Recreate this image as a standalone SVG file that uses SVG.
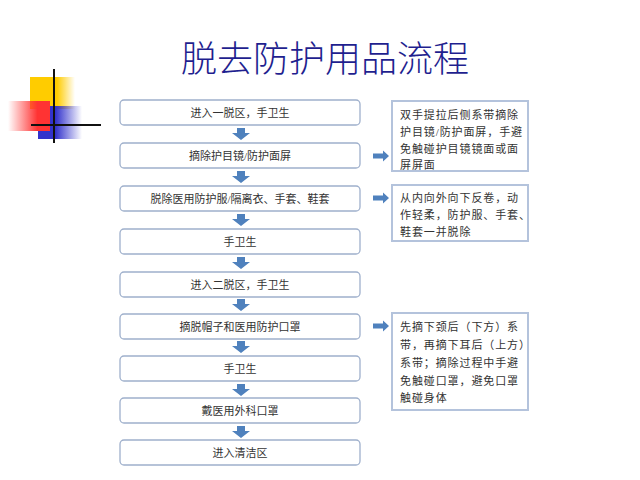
<svg xmlns="http://www.w3.org/2000/svg" width="640" height="480" viewBox="0 0 640 480">
<defs>
<style>
.b{fill:#fff;stroke:#9fb0cc;stroke-width:1.3}
.s{fill:#fff;stroke:#b4c3dc;stroke-width:2}
.t{font-family:"Liberation Serif","Noto Sans CJK SC",serif;font-size:11px;fill:#333;text-anchor:middle}
.st{font-family:"Liberation Serif","Noto Sans CJK SC",serif;font-size:11px;letter-spacing:0.9px;fill:#333}
.a{fill:#4f81bd}
</style>
<linearGradient id="gy" x1="0" x2="1"><stop offset="0.6" stop-color="#ffcc00"/><stop offset="1" stop-color="#ffcc00" stop-opacity="0"/></linearGradient>
<linearGradient id="gr" x1="1" x2="0"><stop offset="0.3" stop-color="#ff3333"/><stop offset="1" stop-color="#ff3333" stop-opacity="0"/></linearGradient>
<linearGradient id="gb" x1="0" x2="1"><stop offset="0.4" stop-color="#3333cc"/><stop offset="1" stop-color="#3333cc" stop-opacity="0"/></linearGradient>
<path id="da" d="M-4,0h8v5h5l-9,7l-9,-7h5z"/>
<path id="ra" d="M0,-2.5h10v-3l6,5.5l-6,5.5v-3h-10z"/>
</defs>
<rect width="640" height="480" fill="#fff"/>
<g id="logo">
<rect x="30" y="77" width="45" height="32" fill="url(#gy)"/>
<rect x="38" y="106" width="44" height="33" fill="url(#gb)"/>
<rect x="8" y="101" width="42" height="30" fill="url(#gr)"/>
<line x1="54" y1="69" x2="54" y2="143" stroke="#111" stroke-width="2"/>
<line x1="31" y1="125" x2="101" y2="125" stroke="#111" stroke-width="2"/>
</g>
<text x="325" y="72" font-family="Liberation Serif,'Noto Sans CJK SC',serif" font-size="36" font-weight="300" fill="#1f1f8f" text-anchor="middle">脱去防护用品流程</text>
<g id="n1"><rect class="b" x="120" y="100" width="240" height="25" rx="4"/><text class="t" x="240" y="117">进入一脱区，手卫生</text></g>
<g id="n2"><rect class="b" x="120" y="143" width="240" height="25" rx="4"/><text class="t" x="240" y="160">摘除护目镜/防护面屏</text></g>
<g id="n3"><rect class="b" x="120" y="186" width="240" height="25" rx="4"/><text class="t" x="240" y="203">脱除医用防护服/隔离衣、手套、鞋套</text></g>
<g id="n4"><rect class="b" x="120" y="229" width="240" height="25" rx="4"/><text class="t" x="240" y="246">手卫生</text></g>
<g id="n5"><rect class="b" x="120" y="272" width="240" height="25" rx="4"/><text class="t" x="240" y="289">进入二脱区，手卫生</text></g>
<g id="n6"><rect class="b" x="120" y="314" width="240" height="25" rx="4"/><text class="t" x="240" y="331">摘脱帽子和医用防护口罩</text></g>
<g id="n7"><rect class="b" x="120" y="356" width="240" height="25" rx="4"/><text class="t" x="240" y="373">手卫生</text></g>
<g id="n8"><rect class="b" x="120" y="398" width="240" height="25" rx="4"/><text class="t" x="240" y="415">戴医用外科口罩</text></g>
<g id="n9"><rect class="b" x="120" y="440" width="240" height="25" rx="4"/><text class="t" x="240" y="457">进入清洁区</text></g>
<g id="s1"><rect class="s" x="392" y="101" width="136" height="70"/>
<text class="st" x="400" y="119">双手提拉后侧系带摘除</text><text class="st" x="400" y="136">护目镜/防护面屏，手避</text><text class="st" x="400" y="153">免触碰护目镜镜面或面</text><text class="st" x="400" y="169">屏屏面</text></g>
<g id="s2"><rect class="s" x="392" y="185" width="136" height="56"/>
<text class="st" x="400" y="202">从内向外向下反卷，动</text><text class="st" x="400" y="219">作轻柔，防护服、手套、</text><text class="st" x="400" y="236">鞋套一并脱除</text></g>
<g id="s3"><rect class="s" x="392" y="313" width="136" height="97"/>
<text class="st" x="400" y="331">先摘下颈后（下方）系</text><text class="st" x="400" y="349">带，再摘下耳后（上方）</text><text class="st" x="400" y="367">系带；摘除过程中手避</text><text class="st" x="400" y="385">免触碰口罩，避免口罩</text><text class="st" x="400" y="402">触碰身体</text></g>
<g id="connectors" class="a">
<use href="#da" x="241" y="128"/><use href="#da" x="241" y="171"/><use href="#da" x="241" y="214"/><use href="#da" x="241" y="257"/><use href="#da" x="241" y="299"/><use href="#da" x="241" y="341"/><use href="#da" x="241" y="384"/><use href="#da" x="241" y="426"/>
<use href="#ra" x="373" y="156"/><use href="#ra" x="373" y="198"/><use href="#ra" x="373" y="326"/>
</g>
</svg>
